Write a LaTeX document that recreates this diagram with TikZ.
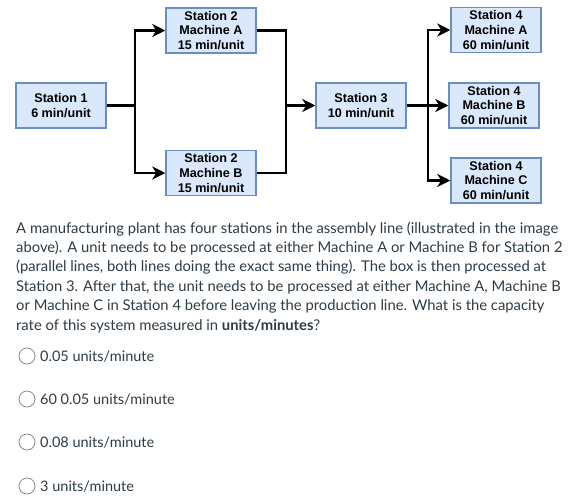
\documentclass[tikz,border=0pt]{standalone}
\usepackage{fontspec}
\setmainfont{Lato}
\newfontfamily\boxfont{Liberation Sans}
\usetikzlibrary{arrows.meta}
\definecolor{boxfill}{HTML}{DAE8FC}
\definecolor{boxline}{HTML}{6C8EBF}
\definecolor{bodytext}{HTML}{2D3B45}
\definecolor{radioline}{HTML}{8A8A8A}
\tikzset{
  stationbox/.style={draw=boxline, fill=boxfill, line width=1.5pt, minimum width=90pt, minimum height=45pt, inner sep=0pt, align=center, font=\boxfont\bfseries\fontsize{12.6}{14.8}\selectfont},
  conn/.style={line width=2.6pt, draw=black},
  arr/.style={conn, -{Stealth[length=13pt,width=13pt,inset=4pt]}},
  para/.style={anchor=base west, inner sep=0pt, text=bodytext, font=\fontsize{14.8}{19}\selectfont},
  opt/.style={para, font=\fontsize{14.5}{19}\selectfont},
  radio/.style={circle, draw=radioline, fill=white, line width=0.8pt, minimum size=16pt, inner sep=0pt},
}
\begin{document}
\begin{tikzpicture}[x=1pt,y=-1pt]
\useasboundingbox (0,0) rectangle (569,501);
\node[stationbox] (s1) at (61,105.5) {Station 1\\6 min/unit};
\node[stationbox] (s2a) at (211,30.5) {Station 2\\Machine A\\15 min/unit};
\node[stationbox] (s2b) at (211,173) {Station 2\\Machine B\\15 min/unit};
\node[stationbox] (s3) at (361,105.5) {Station 3\\10 min/unit};
\node[stationbox] (s4a) at (496,30) {Station 4\\Machine A\\60 min/unit};
\node[stationbox] (s4b) at (494,105.5) {Station 4\\Machine B\\60 min/unit};
\node[stationbox] (s4c) at (496,180.5) {Station 4\\Machine C\\60 min/unit};
\coordinate (j1) at (135,105.5);
\coordinate (j2) at (286,105.5);
\coordinate (j3) at (428,105.5);
\draw[conn] (s1.east) -- (j1);
\draw[arr] (j1) |- (s2a.west);
\draw[arr] (j1) |- (s2b.west);
\draw[conn] (s2a.east) -| (j2);
\draw[conn] (s2b.east) -| (j2);
\draw[arr] (j2) -- (s3.west);
\draw[conn] (s3.east) -- (j3);
\draw[arr] (j3) |- (s4a.west);
\draw[arr] (j3) -- (s4b.west);
\draw[arr] (j3) |- (s4c.west);
\node[para] (p1) at (16,233) {A manufacturing plant has four stations in the assembly line (illustrated in the image};
\node[para] (p2) at (16,252.4) {above). A unit needs to be processed at either Machine A or Machine B for Station 2};
\node[para] (p3) at (16,271.8) {(parallel lines, both lines doing the exact same thing). The box is then processed at};
\node[para] (p4) at (16,291.2) {Station 3. After that, the unit needs to be processed at either Machine A, Machine B};
\node[para] (p5) at (16,310.6) {or Machine C in Station 4 before leaving the production line. What is the capacity};
\node[para] (p6) at (16,330) {rate of this system measured in \textbf{units/minutes}?};
\node[radio] (r1) at (27,356) {};
\node[radio] (r2) at (27,399) {};
\node[radio] (r3) at (27,442) {};
\node[radio] (r4) at (27,486) {};
\node[opt] (o1) at (40,361) {0.05 units/minute};
\node[opt] (o2) at (40,404) {60 0.05 units/minute};
\node[opt] (o3) at (40,447) {0.08 units/minute};
\node[opt] (o4) at (40,491) {3 units/minute};
\end{tikzpicture}
\end{document}
